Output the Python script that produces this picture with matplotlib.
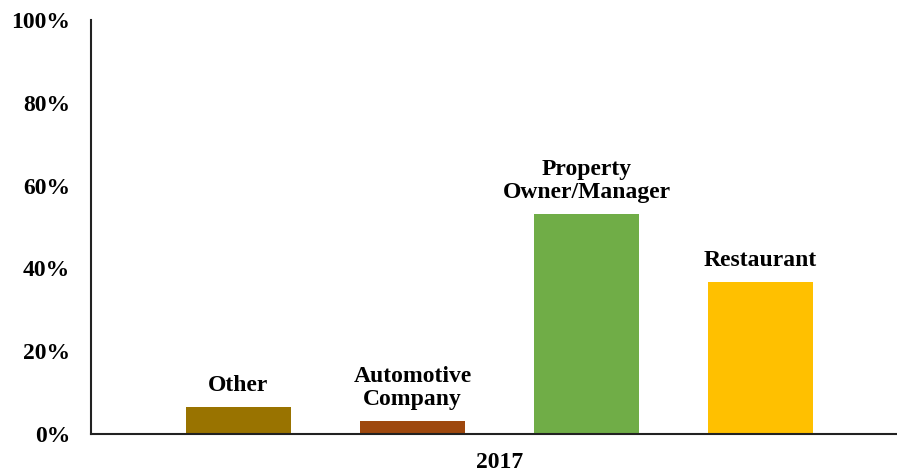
import matplotlib.pyplot as plt
from matplotlib.ticker import PercentFormatter

categories = ['Other', 'Automotive\nCompany', 'Property\nOwner/Manager', 'Restaurant']
values = [6.5, 3.1, 53.1, 36.7]
colors = ['#997300', '#9E480E', '#70AD47', '#FFC000']
group_label = '2017'

plt.rcParams['font.family'] = ['Liberation Serif', 'DejaVu Serif']
plt.rcParams['font.weight'] = 'bold'

fig = plt.figure(figsize=(8.97, 4.73), dpi=100)
ax = fig.add_axes([91 / 897, 1 - 434 / 473, 1 - 91 / 897, 414 / 473])

x = list(range(len(values)))
bars = ax.bar(x, values, width=0.6, color=colors, zorder=2)

for xi, v, name in zip(x, values, categories):
    ax.annotate(name, (xi, v), xytext=(0, 8), textcoords='offset points',
                ha='center', va='bottom', fontsize=17, fontweight='bold',
                linespacing=1.1)

ax.set_ylim(0, 100)
ax.set_xlim(-0.848, 3.784)
ax.set_yticks([0, 20, 40, 60, 80, 100])
ax.yaxis.set_major_formatter(PercentFormatter(decimals=0))
ax.set_xticks([1.5])
ax.set_xticklabels([group_label])
ax.tick_params(axis='both', length=0, labelsize=17)
ax.tick_params(axis='y', pad=15)
ax.tick_params(axis='x', pad=13)

for side in ['top', 'right']:
    ax.spines[side].set_visible(False)
for side in ['left', 'bottom']:
    ax.spines[side].set_linewidth(1.5)
    ax.spines[side].set_color('#222222')

fig.savefig('out.png', dpi=100)
